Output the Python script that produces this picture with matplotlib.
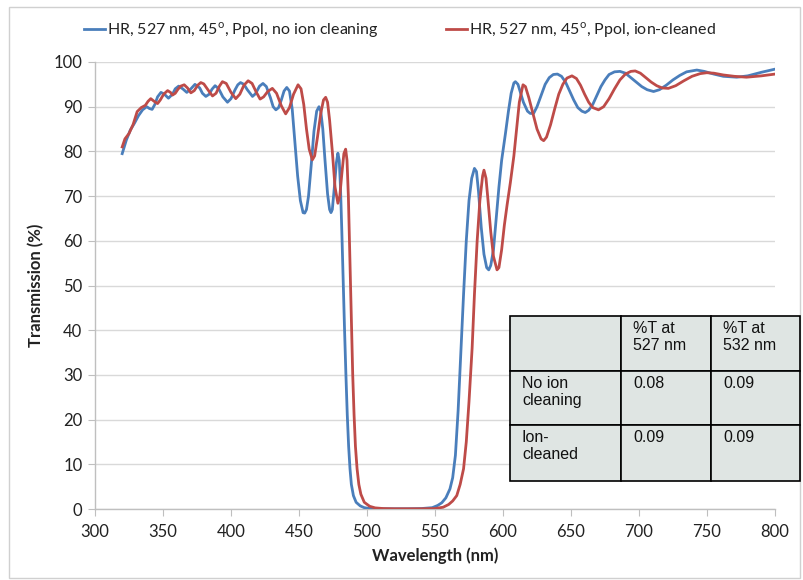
import matplotlib
matplotlib.use("Agg")
import matplotlib.pyplot as plt
from matplotlib.patches import Rectangle

# ---------------- data ----------------
wl_blue = [320, 323, 326, 329, 332, 335, 338, 340, 342, 344, 346, 348.5, 351, 354, 357, 359, 361.5,
           364.5, 367.5, 370.5, 373.5, 377, 379, 381.5, 384, 386, 388.3, 391, 394, 397.4, 400, 403,
           405, 407, 409.5, 412, 415.8, 418, 421, 423.5, 426, 429, 431, 433, 435, 437, 439, 441, 443,
           445, 447, 449, 451, 453, 454.2, 455.5, 457, 459, 461, 463, 464.7, 466, 467.5, 469, 471,
           472.5, 473.5, 474.5, 476, 477.5, 478.6, 479.6, 480.5, 481.5, 482.5, 483.5, 484.5, 485.5,
           486.5, 487.5, 488.5, 490, 492, 495, 498, 502, 510, 520, 530, 540, 548, 552, 555, 558, 561,
           563, 565, 567, 569, 571, 573, 575, 577, 579, 580.5, 582, 584, 586, 588, 589.5, 591, 593,
           595, 597, 599, 601.8, 604, 606, 608, 609.1, 611, 613, 615, 618, 620, 622.5, 625, 628, 631,
           634, 637, 640, 643, 646, 649, 652, 655, 658, 660.5, 663, 666, 669, 672, 675, 678, 682, 686,
           690, 694, 698, 702, 706, 710.7, 715, 720, 725, 730, 735, 742.5, 748, 755, 762, 771.9, 780,
           790, 800]
t_blue = [79.5, 82.5, 84.8, 86.3, 88.0, 89.3, 90.0, 89.6, 89.4, 90.5, 92.2, 93.2, 92.8, 91.9, 92.8, 94.0,
          94.6, 94.0, 93.2, 94.0, 95.0, 94.2, 93.0, 92.3, 92.8, 93.9, 94.7, 94.0, 92.2, 91.0, 91.8, 93.8,
          94.9, 95.4, 95.0, 93.8, 92.3, 92.9, 94.6, 95.2, 94.5, 92.0, 90.0, 89.3, 89.8, 91.5, 93.5, 94.3,
          93.5, 89.5, 82, 74.5, 69, 66.3, 66.2, 67, 70, 77, 84.5, 89, 90, 89, 85, 78.5, 70.5, 67, 66.3,
          67, 72, 77.5, 79.6, 78, 72, 62, 51, 40, 30, 21, 14, 9, 5.5, 3, 1.5, 0.7, 0.3, 0.1, 0.05, 0.05,
          0.05, 0.1, 0.3, 0.8, 1.4, 2.5, 4.5, 7, 12, 22, 35, 48, 60, 69, 74, 76.2, 75.5, 71, 63, 57, 54,
          53.5, 54.5, 58, 65, 72, 78, 84, 89, 93, 95.3, 95.6, 95, 93, 91, 89, 88.5, 88.5, 90, 92.5, 95,
          96.5, 97.2, 97.3, 96.8, 95.5, 93.5, 91.5, 89.8, 89, 88.7, 89.2, 90.5, 92.5, 94.5, 96, 97.2,
          97.8, 97.9, 97.5, 96.5, 95.5, 94.5, 93.8, 93.4, 93.8, 94.8, 96, 97, 97.8, 98.2, 97.9, 97.3,
          96.8, 96.6, 96.9, 97.7, 98.4]

wl_red = [320, 322, 325, 328, 331, 334, 337, 339, 341, 343.5, 346, 348, 350.5, 353.4, 355.5, 357, 359,
          361, 363, 365.6, 368, 370.5, 373, 375.5, 377.8, 380, 383, 386.4, 389, 391.5, 393.7, 396.5,
          400, 403.5, 406.5, 409.5, 412.6, 415.5, 418.5, 421.4, 424, 427, 430.4, 433.5, 437, 440.2,
          443, 446, 449.3, 451.5, 453.5, 455.5, 457.5, 459.8, 461.5, 463.5, 466, 468, 469.6, 471,
          472.5, 474.5, 476.5, 478.6, 480, 481.5, 483, 484.3, 485.3, 486.3, 487.5, 488.5, 489.5,
          490.5, 491.5, 492.7, 494, 495.5, 498, 502, 506, 512, 520, 540, 550, 556, 560, 563, 566,
          568.5, 571, 573, 575, 577.3, 579, 581, 583, 585, 586, 587.5, 589, 591, 593, 595.6, 597, 599,
          601, 603, 605.4, 608, 610, 612, 614.7, 616.5, 619, 622, 625, 628, 629.9, 632, 635, 638, 641,
          644, 647, 650.7, 654, 657, 660, 663, 666, 670.2, 674, 678, 682, 686, 690, 694, 697.2, 701,
          705, 709, 713, 717, 721.6, 727, 733, 739, 745, 749.8, 755, 762, 770, 779, 790, 800]
t_red = [81, 82.8, 84, 86, 88.9, 89.8, 90.3, 91.2, 91.8, 91.2, 90.7, 91.5, 92.8, 93.6, 93.2, 92.6, 93,
         93.9, 94.6, 94.9, 94.2, 93.1, 93.6, 94.8, 95.4, 95.1, 93.8, 92.4, 93, 94.6, 95.6, 95.2, 93.2,
         91.8, 92.8, 94.8, 95.8, 95.2, 93.3, 91.7, 92.2, 93.4, 94.1, 93, 90.2, 88.4, 89.8, 92.8, 94.9,
         94, 90.5, 85, 80.5, 78.1, 79, 83, 88.5, 91.5, 92.1, 91, 87, 80, 72, 68.4, 70, 75, 79.5, 80.5,
         78, 70, 55, 42, 30, 21, 14, 9, 5.5, 3.3, 1.5, 0.6, 0.25, 0.1, 0.05, 0.05, 0.1, 0.4, 1.0, 1.8,
         3, 5.5, 9, 15, 24, 36, 48, 60, 69, 74.5, 75.8, 74, 69, 62, 56.5, 53.5, 54, 58, 63.5, 68, 73,
         79, 85, 91, 94.9, 94.5, 92, 88.5, 85, 82.8, 82.4, 83.2, 86, 89.5, 92.8, 95, 96.4, 96.9, 96.3,
         94.8, 92.8, 91, 89.8, 89.3, 90, 91.8, 94, 96, 97.3, 97.9, 98.0, 97.5, 96.5, 95.5, 94.7, 94.2,
         94.1, 94.7, 95.8, 96.8, 97.4, 97.6, 97.5, 97.1, 96.8, 96.6, 96.9, 97.3]

label_blue = "HR, 527 nm, 45$^{\\mathregular{o}}$, Ppol, no ion cleaning"
label_red = "HR, 527 nm, 45$^{\\mathregular{o}}$, Ppol, ion-cleaned"

x_ticks = [300, 350, 400, 450, 500, 550, 600, 650, 700, 750, 800]
y_ticks = [0, 10, 20, 30, 40, 50, 60, 70, 80, 90, 100]

table_header = ["", "%T at\n527 nm", "%T at\n532 nm"]
table_rows = [["No ion\ncleaning", "0.08", "0.09"],
              ["Ion-\ncleaned", "0.09", "0.09"]]

# ---------------- figure ----------------
W, H = 804, 580
fig = plt.figure(figsize=(W / 100, H / 100), dpi=100)
plt.rcParams['font.family'] = ['Lato', 'DejaVu Sans']
plt.rcParams['mathtext.fontset'] = 'custom'
plt.rcParams['mathtext.rm'] = 'Lato'

def fx(px):
    return px / W

def fy(py):
    return 1 - py / H

# outer chart border
fig.patches.append(Rectangle((fx(9), fy(578)), fx(800) - fx(9), fy(7) - fy(578),
                             transform=fig.transFigure, fill=False,
                             edgecolor='#d0d0d0', lw=1.0))

ax_l, ax_r, ax_t, ax_b = 95, 775, 62, 509
ax = fig.add_axes([fx(ax_l), fy(ax_b), fx(ax_r) - fx(ax_l), fy(ax_t) - fy(ax_b)])

blue = '#4a7ebb'
red = '#be4b48'
ax.plot(wl_blue, t_blue, color=blue, lw=2.0, label=label_blue, zorder=3)
ax.plot(wl_red, t_red, color=red, lw=2.0, label=label_red, zorder=3)

ax.set_xlim(300, 800)
ax.set_ylim(0, 100)
ax.set_xticks(x_ticks)
ax.set_yticks(y_ticks)
ax.grid(axis='y', color='#d9d9d9', lw=1.0, zorder=0)
ax.set_axisbelow(True)
for s in ['top', 'right']:
    ax.spines[s].set_visible(False)
for s in ['left', 'bottom']:
    ax.spines[s].set_color('#bfbfbf')
    ax.spines[s].set_linewidth(1.0)
ax.tick_params(axis='both', direction='out', length=5, color='#bfbfbf',
               labelsize=12, labelcolor='#222222', pad=4)
ax.tick_params(axis='x', pad=6)

ax.set_xlabel("Wavelength (nm)", fontsize=12, fontweight='bold', color='#222222', labelpad=5)
ax.set_ylabel("Transmission (%)", fontsize=12, fontweight='bold', color='#222222')
ax.yaxis.set_label_coords((44 - ax_l) / (ax_r - ax_l), 0.5)

leg = fig.legend(loc='center', bbox_to_anchor=(fx(400), fy(30)), ncol=2, frameon=False,
                 fontsize=11.5, handlelength=1.3, handletextpad=0.15, columnspacing=4.2,
                 labelcolor='#222222')

# ---------------- table ----------------
col_x = [510, 621, 711, 800]
row_y = [316, 371, 425, 481]
cells = [table_header] + table_rows
for r in range(3):
    for c in range(3):
        x0, x1 = col_x[c], col_x[c + 1]
        y0, y1 = row_y[r], row_y[r + 1]
        fig.patches.append(Rectangle((fx(x0), fy(y1)), fx(x1) - fx(x0), fy(y0) - fy(y1),
                                     transform=fig.transFigure, facecolor='#dfe5e3',
                                     edgecolor='black', lw=1.2, zorder=5))
        txt = cells[r][c]
        if txt:
            fig.text(fx(x0 + 12), fy(y0 + 5), txt, ha='left', va='top', fontsize=11.5,
                     family=['Liberation Sans', 'DejaVu Sans'], color='#111111',
                     linespacing=1.15, zorder=6)

fig.savefig("out.png", dpi=100)
